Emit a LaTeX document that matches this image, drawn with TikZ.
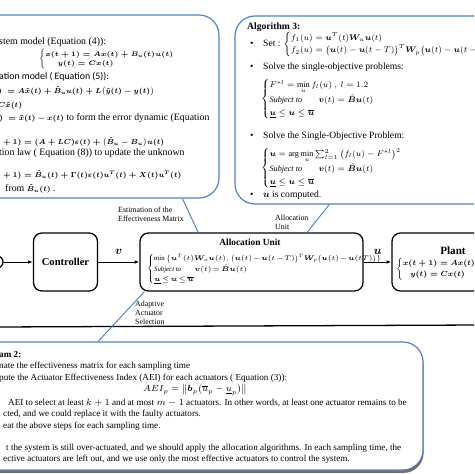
\RequirePackage{fix-cm}
\documentclass[tikz,border=0pt]{standalone}
\usepackage{amsmath,amssymb}
\usepackage{bm}
\usepackage{fontspec}
\setmainfont{Liberation Serif}
\newfontfamily\calibrifont{Carlito}
\usetikzlibrary{arrows.meta}
\usetikzlibrary{positioning}
\usetikzlibrary{shadows}
\definecolor{boxblue}{RGB}{79,129,189}
% bold math of the estimation box, smaller than its text
\newcommand{\bmath}[1]{{\fontsize{6.2}{8}\selectfont\boldmath$#1$}}
% text beside the math of algorithm 3
\newcommand{\tx}[1]{{\fontsize{8.2}{10}\selectfont #1}}

\tikzset{
  bigbox/.style={draw=boxblue, line width=1pt, rounded corners=0.6cm},
  blockbox/.style={draw=black, line width=1.1pt, rounded corners=0.25cm, minimum height=1.74cm},
  txt/.style={anchor=west, inner sep=0pt, font=\fontsize{8.2}{10}\selectfont},
  esttxt/.style={txt, font=\fontsize{8.4}{10}\selectfont},
  mtxt/.style={txt, font=\fontsize{7}{9}\selectfont},
  bottxt/.style={txt, font=\fontsize{7.8}{10}\selectfont},
  tag/.style={anchor=west, align=left, inner sep=0pt, font=\fontsize{6.7}{7.7}\selectfont},
  pointer/.style={draw=boxblue, line width=0.8pt},
  flow/.style={-{Latex[length=4pt,width=3pt]}, line width=0.8pt},
}

\begin{document}
\begin{tikzpicture}[x=0.03cm, y=-0.03cm]
  \useasboundingbox (0,0) rectangle (474,474);
  \clip (0,0) rectangle (474,474);

  % estimation box (top left)
  \node[bigbox, minimum width=7.47cm, minimum height=5.49cm] (est) at (94.5,106.5) {};
  \node[esttxt] (e1) at (-1,42) {stem model (Equation (4)):};
  \node[esttxt, font=\fontsize{5.6}{7}\selectfont\boldmath] (e2) at (39,59) {$\begin{cases} x(t+1) = Ax(t) + B_u(t)u(t)\\ \quad\;\; y(t) = Cx(t)\end{cases}$};
  \node[esttxt] (e3) at (-1,77) {\calibrifont ation model ( Equation (5)):};
  \node[esttxt] (e4) at (-2,91) {\bmath{)\;= A\hat{x}(t) + \hat{B}_u u(t) + L\big(\hat{y}(t) - y(t)\big)}};
  \node[esttxt] (e5) at (-2,106) {\bmath{C\hat{x}(t)}};
  \node[esttxt] (e6) at (-1,118) {\bmath{)\;= \tilde{x}(t) - x(t)} to form the error dynamic (Equation};
  \node[esttxt] (e7) at (3,142) {\bmath{+\,1) = (A+LC)\varepsilon(t) + \big(\hat{B}_u - B_u\big)u(t)}};
  \node[esttxt] (e8) at (-1,153) {tion law ( Equation (8)) to update the unknown};
  \node[esttxt] (e9) at (3,175) {\bmath{+\,1) = \hat{B}_u(t) + \Gamma(t)\varepsilon(t)u^T(t) + X(t)u^T(t)}};
  \node[esttxt] (e10) at (5,189) {from \bmath{\hat{B}_u(t)} .};

  % algorithm 3 box (top right)
  \node[bigbox, minimum width=8.85cm, minimum height=5.64cm] (alg3) at (382.5,110) {};
  \node[txt] (a3) at (247,27) {\textbf{Algorithm 3:}};
  \node[txt] (b1) at (250,44) {\textbullet};
  \node[mtxt] (s1) at (263,44) {\tx{Set :} $\begin{cases} f_1(u) = \bm{u}^T(t)\bm{W}_u\bm{u}(t)\\ f_2(u) = \big(\bm{u}(t)-\bm{u}(t-T)\big)^T \bm{W}_p\big(\bm{u}(t) - \bm{u}(t-T)\big)\end{cases}$};
  \node[txt] (b2) at (250,67) {\textbullet};
  \node[txt] (s2) at (263,67) {Solve the single-objective problems:};
  \node[mtxt] (c2) at (261,99) {$\begin{cases} F^{*l} = \min\limits_{u} f_l(u)\ ,\ l = 1.2\\ \textit{Subject to}\qquad \bm{v}(t) = \hat{\bm{B}}\bm{u}(t)\\ \underline{\bm{u}} \le \bm{u} \le \overline{\bm{u}}\end{cases}$};
  \node[txt] (b3) at (250,136) {\textbullet};
  \node[txt] (s3) at (263,136) {Solve the Single-Objective Problem:};
  \node[mtxt] (c3) at (261,168) {$\begin{cases} \bm{u} = \arg\min\limits_{u}\sum_{l=1}^{2}\big(f_l(u) - F^{*l}\big)^2 \\ \textit{Subject to}\qquad \bm{v}(t)=\hat{\bm{B}}\bm{u}(t)\\ \underline{\bm{u}}\le\bm{u}\le\overline{\bm{u}}\end{cases}$};
  \node[txt] (b4) at (250,195) {\textbullet};
  \node[txt] (s4) at (263,195) {$\bm{u}$ is computed.};

  % blocks
  \node[draw, circle, line width=1.1pt, minimum size=0.36cm] (sum) at (-3,262) {};
  \node[blockbox, minimum width=1.92cm, font=\fontsize{9}{10}\selectfont\bfseries] (ctrl) at (65.5,262) {Controller};
  \node[blockbox, minimum width=6.69cm] (alloc) at (251.5,262) {};
  \node[txt, anchor=center, font=\fontsize{8}{9}\selectfont\bfseries] (allocT) at (250,242) {Allocation Unit};
  \node[txt, font=\fontsize{5.8}{7.5}\selectfont] (allocE) at (147,269) {$\medmuskip=1.5mu\relax\thickmuskip=2.5mu\relax
    \begin{cases} \min\big\{\bm{u}^T(t)\bm{W}_u\bm{u}(t),\big(\bm{u}(t)-\bm{u}(t-T)\big)^T\bm{W}_p\big(\bm{u}(t)-\bm{u}(tT)\big)\big\}\\ \textit{Subject to}\qquad \bm{v}(t)=\hat{\bm{B}}\bm{u}(t)\\ \underline{\bm{u}}\le\bm{u}\le\overline{\bm{u}}\end{cases}$};
  \node[blockbox, minimum width=5.04cm] (plant) at (476,262) {};
  \node[txt, anchor=center, font=\fontsize{9.5}{10}\selectfont\bfseries] (plantT) at (453,251) {Plant};
  \node[txt, font=\fontsize{6.3}{8}\selectfont\boldmath] (plantE) at (396,269) {$\begin{cases} x(t+1) = Ax(t) + B_u(t)u(t)\\ \quad y(t) = Cx(t)\end{cases}$};

  \draw[flow] (sum) -- (ctrl);
  \draw[flow] (ctrl) -- node[above=3pt, font=\fontsize{10}{10}\selectfont] {$\bm{v}$} (alloc);
  \draw[flow] (alloc) -- node[above=3pt, font=\fontsize{10}{10}\selectfont] {$\bm{u}$} (plant);

  % feedback line
  \coordinate (fbL) at (-5,327);
  \coordinate (fbR) at (480,325);
  \draw[line width=1.1pt] (fbL) -- (fbR);

  % algorithm 2 box (bottom)
  \node[bigbox, fill=white, minimum width=13.59cm, minimum height=3.84cm,
        drop shadow={shadow xshift=0.5pt, shadow yshift=-2.5pt, fill=black!70, opacity=0.8}] (alg2) at (196.5,406) {};
  \node[bottxt] (d1) at (-1,355) {\textbf{am 2:}};
  \node[bottxt] (d2) at (-1,366) {nate the effectiveness matrix for each sampling time};
  \node[bottxt] (d3) at (-1,378) {pute the Actuator Effectiveness Index (AEI) for each actuators ( Equation (3)):};
  \node[bottxt, font=\fontsize{7.6}{9}\selectfont] (d4) at (143,390) {$AEI_p = \big\|\bm{b}_p\big(\overline{u}_p - \underline{u}_p\big)\big\|$};
  \node[bottxt] (d5) at (8,403) {AEI to select at least $k+1$ and at most $m-1$ actuators. In other words, at least one actuator remains to be};
  \node[bottxt] (d6) at (3,414) {cted, and we could replace it with the faulty actuators.};
  \node[bottxt] (d7) at (3,426) {eat the above steps for each sampling time.};
  \node[bottxt] (d8) at (6,448) {t the system is still over-actuated, and we should apply the allocation algorithms. In each sampling time, the};
  \node[bottxt] (d9) at (3,459) {ective actuators are left out, and we use only the most effective actuators to control the system.};

  % callout pointers and their labels
  \draw[pointer] ([xshift=2.64cm]est.south) -- ([xshift=-1.6cm]alloc.north);
  \node[tag] (estL) at (118,214) {Estimation of the\\Effectiveness Matrix};
  \draw[pointer] ([xshift=-1.6cm]alg3.south) -- ([xshift=1.67cm]alloc.north);
  \node[tag] (allocL) at (275,222) {Allocation\\Unit};
  \draw[pointer] ([xshift=-2.95cm]alg2.north) -- ([xshift=0.15cm]alloc.south west);
  \node[tag] (adaptL) at (135,313) {Adaptive\\Actuator\\Selection};
\end{tikzpicture}
\end{document}
